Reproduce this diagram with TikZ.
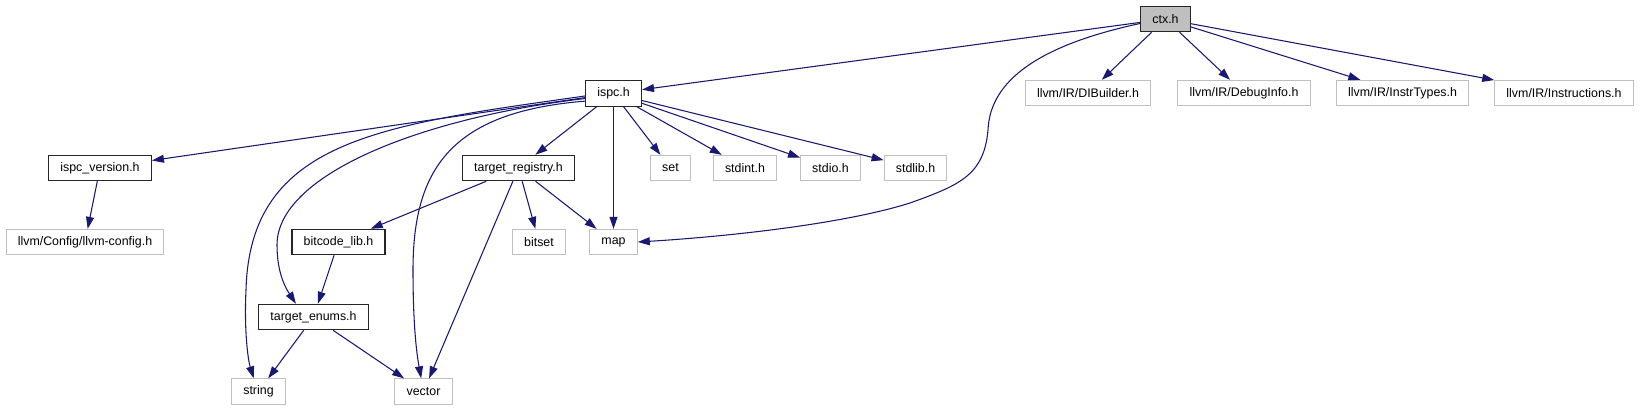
\documentclass[tikz,border=0pt]{standalone}
\usepackage{fontspec}
\setsansfont{Liberation Sans}
\usetikzlibrary{arrows.meta}
\definecolor{edgecolor}{RGB}{25,25,112}
\definecolor{extgray}{RGB}{191,191,191}

\begin{document}
\begin{tikzpicture}[x=0.75pt,y=-0.75pt,
    file/.style={draw=black!85, line width=0.9pt, font=\sffamily\fontsize{9.3}{11}\selectfont,
                 minimum height=19pt, inner ysep=0pt, inner xsep=8.8pt},
    extfile/.style={file, draw=extgray, line width=0.75pt},
    rootfile/.style={file, fill=extgray},
    dep/.style={draw=edgecolor, line width=0.8pt, -{Triangle[length=9pt,width=6pt]}}]
    \useasboundingbox (0,0) rectangle (1642,411);

    \node [rootfile] (ctx) at (1165.5,19) {ctx.h};

    \node [file]    (ispc)         at (613.5,93.5) {ispc.h};
    \node [extfile] (dibuilder)    at (1088,93)    {llvm/IR/DIBuilder.h};
    \node [extfile] (debuginfo)    at (1244,93)    {llvm/IR/DebugInfo.h};
    \node [extfile] (instrtypes)   at (1402.5,93)  {llvm/IR/InstrTypes.h};
    \node [extfile] (instructions) at (1564,93)    {llvm/IR/Instructions.h};

    \node [file]    (version)  at (100,168)   {ispc\_version.h};
    \node [file]    (registry) at (518.5,168) {target\_registry.h};
    \node [extfile] (set)      at (670.5,168) {set};
    \node [extfile] (stdint)   at (745,168)   {stdint.h};
    \node [extfile] (stdio)    at (830.5,168) {stdio.h};
    \node [extfile] (stdlib)   at (915.5,168) {stdlib.h};

    \node [extfile] (llvmconfig) at (85,242)    {llvm/Config/llvm-config.h};
    \node [file]    (bitcode)    at (338.5,242) {bitcode\_lib.h};
    \node [extfile] (bitset)     at (539,242)   {bitset};
    \node [extfile] (map)        at (613.5,242) {map};

    \node [file] (enums) at (313.5,317) {target\_enums.h};

    \node [extfile] (string) at (258.5,391.5) {string};
    \node [extfile] (vector) at (423.5,391.5) {vector};

    % ctx.h
    \draw [dep] (ctx) -- (ispc);
    \draw [dep] (ctx.190) .. controls (1040,45) and (990,80) .. (988,130)
                .. controls (984,175) and (960,185) .. (910,203)
                .. controls (840,225) and (720,237) .. (map.east);
    \draw [dep] (ctx) -- (dibuilder);
    \draw [dep] (ctx) -- (debuginfo);
    \draw [dep] (ctx) -- (instrtypes);
    \draw [dep] (ctx) -- (instructions);

    % ispc.h
    \draw [dep] (ispc) -- (version);
    \draw [dep] (ispc.185) .. controls (380,125) and (250,140) .. (246,290)
                .. controls (244,330) and (248,360) .. (string.110);
    \draw [dep] (ispc.190) .. controls (420,118) and (277,175) .. (277,245)
                .. controls (277,275) and (287,290) .. (enums.143);
    \draw [dep] (ispc.195) .. controls (450,112) and (413,170) .. (413,270)
                .. controls (413,320) and (416,350) .. (vector.100);
    \draw [dep] (ispc) -- (registry);
    \draw [dep] (ispc) -- (map);
    \draw [dep] (ispc) -- (set);
    \draw [dep] (ispc) -- (stdint);
    \draw [dep] (ispc) -- (stdio);
    \draw [dep] (ispc) -- (stdlib);

    \draw [dep] (version) -- (llvmconfig);

    \draw [dep] (registry) -- (bitcode);
    \draw [dep] (registry) -- (vector);
    \draw [dep] (registry) -- (bitset);
    \draw [dep] (registry) -- (map);

    \draw [dep] (bitcode) -- (enums);
    \draw [dep] (enums) -- (string);
    \draw [dep] (enums) -- (vector);
\end{tikzpicture}
\end{document}
